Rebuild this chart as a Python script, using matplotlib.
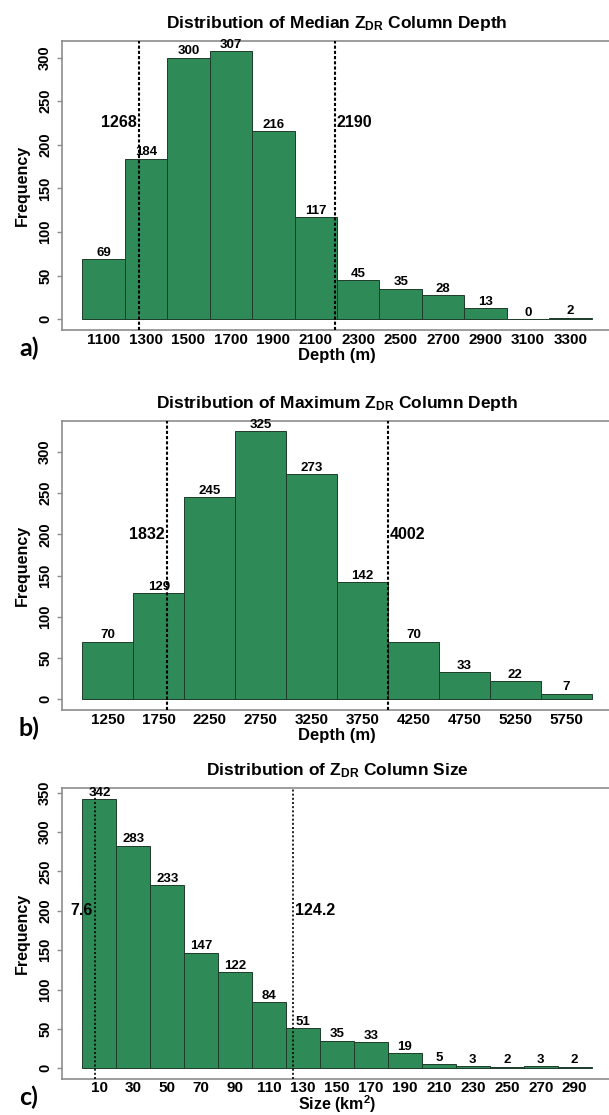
import matplotlib
matplotlib.use("Agg")
import matplotlib.pyplot as plt
import numpy as np

plt.rcParams['font.family'] = ['Liberation Sans', 'DejaVu Sans']
plt.rcParams['mathtext.fontset'] = 'custom'
plt.rcParams['mathtext.rm'] = 'Liberation Sans:bold'
plt.rcParams['mathtext.bf'] = 'Liberation Sans:bold'
plt.rcParams['mathtext.it'] = 'Liberation Sans:bold'

# median column depth (m)
median_edges = [1000, 1200, 1400, 1600, 1800, 2000, 2200, 2400, 2600, 2800, 3000, 3200, 3400]
median_counts = [69, 184, 300, 307, 216, 117, 45, 35, 28, 13, 0, 2]
median_marks = [1268, 2190]
median_label_y = 225

# maximum column depth (m)
max_edges = [1000, 1500, 2000, 2500, 3000, 3500, 4000, 4500, 5000, 5500, 6000]
max_counts = [70, 129, 245, 325, 273, 142, 70, 33, 22, 7]
max_marks = [1832, 4002]
max_label_y = 200

# column size (km^2)
size_edges = [0, 20, 40, 60, 80, 100, 120, 140, 160, 180, 200, 220, 240, 260, 280, 300]
size_counts = [342, 283, 233, 147, 122, 84, 51, 35, 33, 19, 5, 3, 2, 3, 2]
size_marks = [7.6, 124.2]
size_label_y = 200

W, H = 609, 1115
BAR = '#2e8b57'
BOX = '#8c8c8c'

fig = plt.figure(figsize=(W / 100, H / 100), dpi=100)


def add_panel(top, bottom, edges, counts, marks, label_y, title, xlabel, tag,
              yticks, mark_lw, mark_dash, xlabel_pad=0.5, xlabel_size=12, xtick_pad=2.5):
    ax = fig.add_axes([62 / W, 1 - bottom / H, 550 / W, (bottom - top) / H])
    edges = np.array(edges, dtype=float)
    counts = np.array(counts, dtype=float)
    widths = np.diff(edges)
    centers = edges[:-1] + widths / 2
    ax.bar(edges[:-1], counts, width=widths, align='edge', color=BAR,
           edgecolor='#1d3b29', linewidth=0.7, zorder=2)
    for c, n in zip(centers, counts):
        ax.annotate(f"{int(n)}", (c, n), xytext=(0, 0.2), textcoords='offset points',
                    ha='center', va='bottom', fontsize=9.5, fontweight='bold', zorder=4)

    span = edges[-1] - edges[0]
    ymax = counts.max()
    ax.set_xlim(edges[0] - 0.04 * span, edges[-1] + 0.04 * span)
    ax.set_ylim(-0.04 * ymax, 1.04 * ymax)

    # reference lines with their values on either side
    for i, m in enumerate(marks):
        ax.axvline(m, color='black', linewidth=mark_lw, linestyle=mark_dash, zorder=3)
        if i == 0:
            ax.annotate(f"{m:g}", (m, label_y), xytext=(-1.5, 0), textcoords='offset points',
                        ha='right', va='center', fontsize=11.5, fontweight='bold', zorder=4)
        else:
            ax.annotate(f"{m:g}", (m, label_y), xytext=(1.5, 0), textcoords='offset points',
                        ha='left', va='center', fontsize=11.5, fontweight='bold', zorder=4)

    ax.set_xticks(centers)
    ax.set_xticklabels([f"{c:g}" for c in centers], fontsize=11, fontweight='bold')
    ax.tick_params(axis='x', length=0, pad=xtick_pad)
    ax.set_yticks(yticks)
    ax.set_yticklabels([str(t) for t in yticks], fontsize=10.5, fontweight='bold',
                       rotation=90, va='center')
    ax.tick_params(axis='y', length=3.6, width=1, color=BOX, pad=3.5)
    for s in ax.spines.values():
        s.set_color(BOX)
        s.set_linewidth(1.2)

    ax.set_title(title, fontsize=12.5, fontweight='bold', pad=9)
    ax.set_xlabel(xlabel, fontsize=xlabel_size, fontweight='bold', labelpad=xlabel_pad)
    ax.set_ylabel('Frequency', fontsize=11.5, fontweight='bold', labelpad=6)
    fig.text(19 / W, 1 - (bottom + 18) / H, tag, fontsize=18, fontweight='bold',
             family=['Lato', 'DejaVu Sans'], ha='left', va='center')
    return ax


add_panel(40.7, 330, median_edges, median_counts, median_marks, median_label_y,
          r"Distribution of Median Z$_{\rm DR}$ Column Depth", 'Depth (m)', 'a)',
          list(range(0, 301, 50)), 1.5, (0, (1.5, 1.0)))
add_panel(420.7, 710, max_edges, max_counts, max_marks, max_label_y,
          r"Distribution of Maximum Z$_{\rm DR}$ Column Depth", 'Depth (m)', 'b)',
          list(range(0, 301, 50)), 1.5, (0, (1.5, 1.0)))
add_panel(788.3, 1079, size_edges, size_counts, size_marks, size_label_y,
          r"Distribution of Z$_{\rm DR}$ Column Size", r"Size (km$^{\rm 2}$)", 'c)',
          list(range(0, 351, 50)), 1.2, (0, (1.2, 1.3)),
          xlabel_pad=-1.0, xlabel_size=11.5, xtick_pad=1.5)

fig.savefig('out.png', dpi=100)
